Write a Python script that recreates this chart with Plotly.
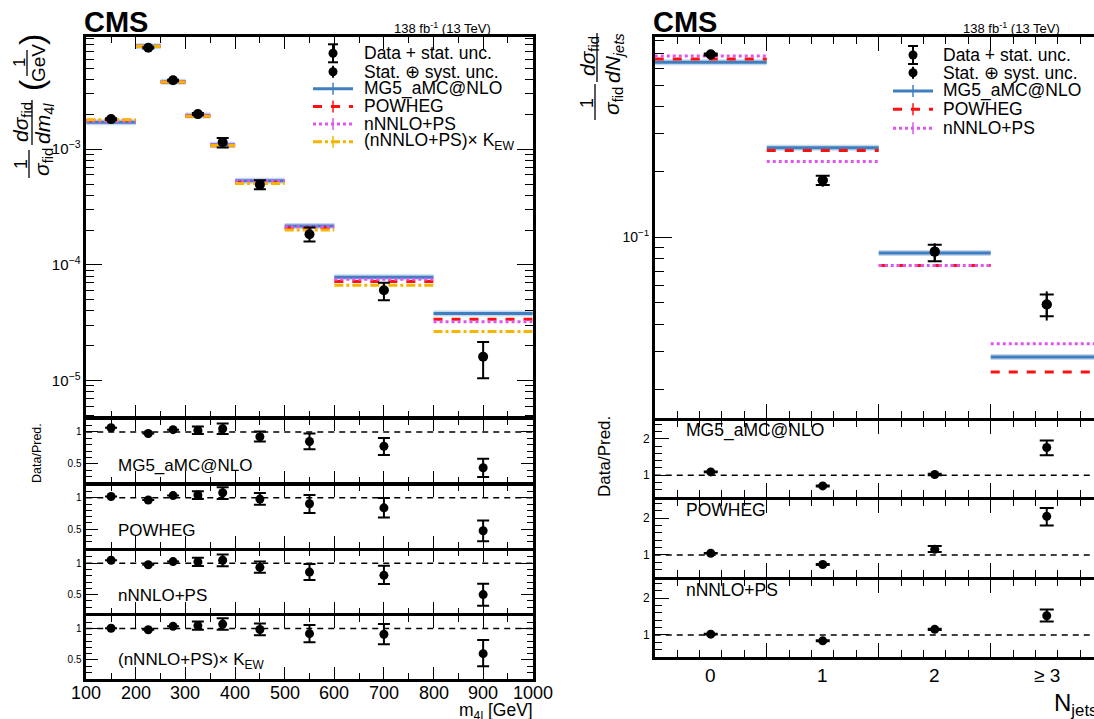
import numpy as np
import plotly.graph_objects as go

W, H = 1094, 719

# ---------------- data: m4l (left) ----------------
m4l_edges = [100, 200, 250, 300, 350, 400, 500, 600, 800, 1000]
m4l_centers = [150, 225, 275, 325, 375, 450, 550, 700, 900]
m4l_ticks = [100, 200, 300, 400, 500, 600, 700, 800, 900, 1000]
data_m4l = [1.82e-3, 7.52e-3, 3.94e-3, 2.01e-3, 1.15e-3, 4.94e-4, 1.84e-4, 6.04e-5, 1.61e-5]
data_m4l_up = [1.85e-3, 7.62e-3, 3.99e-3, 2.05e-3, 1.25e-3, 5.38e-4, 2.11e-4, 7.00e-5, 2.16e-5]
data_m4l_dn = [1.79e-3, 7.42e-3, 3.89e-3, 1.97e-3, 1.035e-3, 4.51e-4, 1.59e-4, 4.96e-5, 1.05e-5]
mg5_m4l = [1.71e-3, 7.74e-3, 3.82e-3, 1.96e-3, 1.09e-3, 5.35e-4, 2.17e-4, 7.81e-5, 3.81e-5]
powheg_m4l = [1.78e-3, 7.76e-3, 3.81e-3, 1.93e-3, 1.07e-3, 5.15e-4, 2.08e-4, 7.18e-5, 3.39e-5]
nnlo_m4l = [1.74e-3, 7.76e-3, 3.84e-3, 1.97e-3, 1.10e-3, 5.32e-4, 2.14e-4, 7.52e-5, 3.22e-5]
nnlokew_m4l = [1.80e-3, 7.70e-3, 3.81e-3, 1.93e-3, 1.075e-3, 5.05e-4, 2.00e-4, 6.67e-5, 2.66e-5]

# ratios data/prediction (left)
r_mg5 = [1.066, 0.976, 1.036, 1.025, 1.05, 0.925, 0.85, 0.775, 0.436]
r_mg5_up = [1.066, 0.976, 1.036, 1.085, 1.135, 1.006, 0.976, 0.906, 0.576]
r_mg5_dn = [1.066, 0.976, 1.036, 0.966, 0.966, 0.85, 0.726, 0.636, 0.291]
r_pow = [1.02, 0.965, 1.035, 1.045, 1.08, 0.98, 0.905, 0.84, 0.475]
r_pow_up = [1.02, 0.965, 1.035, 1.106, 1.167, 1.076, 1.045, 0.995, 0.64]
r_pow_dn = [1.02, 0.965, 1.035, 0.98, 0.98, 0.89, 0.76, 0.686, 0.308]
r_nnlo = [1.046, 0.974, 1.025, 1.02, 1.046, 0.933, 0.857, 0.806, 0.5]
r_nnlo_up = [1.046, 0.974, 1.025, 1.085, 1.138, 1.025, 0.985, 0.959, 0.673]
r_nnlo_dn = [1.046, 0.974, 1.025, 0.954, 0.949, 0.847, 0.73, 0.668, 0.321]
r_kew = [1.005, 0.98, 1.035, 1.046, 1.07, 0.985, 0.918, 0.908, 0.6]
r_kew_up = [1.005, 0.98, 1.035, 1.11, 1.163, 1.08, 1.056, 1.07, 0.817]
r_kew_dn = [1.005, 0.98, 1.035, 0.98, 0.98, 0.893, 0.78, 0.75, 0.4]

# ---------------- data: Njets (right) ----------------
nj_edges = [-0.5, 0.5, 1.5, 2.5, 3.5]
nj_centers = [0, 1, 2, 3]
nj_labels = ["0", "1", "2", "\u2265 3"]
data_nj = [0.692, 0.183, 0.0860, 0.0492]
data_nj_stat_up = [0.699, 0.192, 0.0926, 0.0546]
data_nj_stat_dn = [0.685, 0.174, 0.0777, 0.0434]
data_nj_tot_up = [0.702, 0.1937, 0.0940, 0.0565]
data_nj_tot_dn = [0.682, 0.171, 0.0770, 0.0415]
mg5_nj = [0.638, 0.258, 0.0848, 0.0282]
powheg_nj = [0.661, 0.251, 0.0742, 0.0241]
nnlo_nj = [0.682, 0.223, 0.0742, 0.0325]

rn_mg5 = [1.09, 0.706, 1.02, 1.76]
rn_mg5_up = [1.10, 0.72, 1.04, 1.95]
rn_mg5_dn = [1.08, 0.69, 1.00, 1.55]
rn_pow = [1.045, 0.74, 1.15, 2.045]
rn_pow_up = [1.055, 0.755, 1.24, 2.27]
rn_pow_dn = [1.035, 0.725, 1.08, 1.80]
rn_nnlo = [1.02, 0.84, 1.15, 1.52]
rn_nnlo_up = [1.03, 0.855, 1.17, 1.69]
rn_nnlo_dn = [1.01, 0.825, 1.13, 1.36]

# ---------------- styles ----------------
FONT = "Liberation Sans, Arial, Helvetica, sans-serif"
C_MG5 = "#3f7fbf"
C_POW = "#ff1010"
C_NNLO = "#e055f0"
C_KEW = "#f7b500"
LW = 2.5


def px(x):
    return x / W


def py(y):
    return 1 - y / H


def steps(edges, vals):
    xs, ys = [], []
    for i, v in enumerate(vals):
        xs += [edges[i], edges[i + 1], None]
        ys += [v, v, None]
    return xs, ys


def err(val, up, dn):
    v = np.array(val, dtype=float)
    return (np.array(up) - v).tolist(), (v - np.array(dn)).tolist()


fig = go.Figure()

# --- left top panel ---
pred_styles = [
    (mg5_m4l, C_MG5, "solid", 3),
    (powheg_m4l, C_POW, "dash", 3),
    (nnlo_m4l, C_NNLO, "dot", 3),
    (nnlokew_m4l, C_KEW, "dashdot", 3),
]
xs, ys = steps(m4l_edges, mg5_m4l)
fig.add_trace(go.Scatter(x=xs, y=ys, mode="lines", line=dict(color="rgba(63,127,191,0.3)", width=6),
                         xaxis="x", yaxis="y", showlegend=False, hoverinfo="skip"))
for vals, col, dash, w in pred_styles:
    xs, ys = steps(m4l_edges, vals)
    fig.add_trace(go.Scatter(x=xs, y=ys, mode="lines", line=dict(color=col, width=w, dash=dash),
                             xaxis="x", yaxis="y", showlegend=False))
eu, ed = err(data_m4l, data_m4l_up, data_m4l_dn)
fig.add_trace(go.Scatter(x=m4l_centers, y=data_m4l, mode="markers",
                         marker=dict(color="black", size=10),
                         error_y=dict(type="data", array=eu, arrayminus=ed, color="black", thickness=2, width=6),
                         xaxis="x", yaxis="y", showlegend=False))

# --- left ratio panels ---
left_ratios = [
    (r_mg5, r_mg5_up, r_mg5_dn),
    (r_pow, r_pow_up, r_pow_dn),
    (r_nnlo, r_nnlo_up, r_nnlo_dn),
    (r_kew, r_kew_up, r_kew_dn),
]
for i, (v, u, d) in enumerate(left_ratios):
    k = i + 2
    eu, ed = err(v, u, d)
    fig.add_trace(go.Scatter(x=m4l_centers, y=v, mode="markers",
                             marker=dict(color="black", size=9),
                             error_y=dict(type="data", array=eu, arrayminus=ed, color="black", thickness=2, width=6),
                             xaxis=f"x{k}", yaxis=f"y{k}", showlegend=False))

# --- right top panel ---
xs, ys = steps(nj_edges, mg5_nj)
fig.add_trace(go.Scatter(x=xs, y=ys, mode="lines", line=dict(color="rgba(63,127,191,0.3)", width=6),
                         xaxis="x6", yaxis="y6", showlegend=False, hoverinfo="skip"))
for vals, col, dash in [(mg5_nj, C_MG5, "solid"), (powheg_nj, C_POW, "dash"), (nnlo_nj, C_NNLO, "dot")]:
    xs, ys = steps(nj_edges, vals)
    fig.add_trace(go.Scatter(x=xs, y=ys, mode="lines", line=dict(color=col, width=3, dash=dash),
                             xaxis="x6", yaxis="y6", showlegend=False))
tu, td = err(data_nj, data_nj_tot_up, data_nj_tot_dn)
fig.add_trace(go.Scatter(x=nj_centers, y=data_nj, mode="markers",
                         marker=dict(color="black", size=10),
                         error_y=dict(type="data", array=tu, arrayminus=td, color="black", thickness=2, width=0),
                         xaxis="x6", yaxis="y6", showlegend=False))
su, sd = err(data_nj, data_nj_stat_up, data_nj_stat_dn)
fig.add_trace(go.Scatter(x=nj_centers, y=data_nj, mode="markers",
                         marker=dict(color="black", size=10),
                         error_y=dict(type="data", array=su, arrayminus=sd, color="black", thickness=2, width=7),
                         xaxis="x6", yaxis="y6", showlegend=False))

right_ratios = [
    (rn_mg5, rn_mg5_up, rn_mg5_dn),
    (rn_pow, rn_pow_up, rn_pow_dn),
    (rn_nnlo, rn_nnlo_up, rn_nnlo_dn),
]
for i, (v, u, d) in enumerate(right_ratios):
    k = i + 7
    eu, ed = err(v, u, d)
    fig.add_trace(go.Scatter(x=nj_centers, y=v, mode="markers",
                             marker=dict(color="black", size=9),
                             error_y=dict(type="data", array=eu, arrayminus=ed, color="black", thickness=2, width=7),
                             xaxis=f"x{k}", yaxis=f"y{k}", showlegend=False))

# ---------------- axes ----------------
def base_axis(**kw):
    d = dict(showline=True, linecolor="black", linewidth=LW, ticks="inside", tickcolor="black",
             tickwidth=1.3, showgrid=False, zeroline=False, mirror="ticks", automargin=False,
             tickfont=dict(family=FONT, size=12, color="black"))
    d.update(kw)
    return d

layout = {}
left_dom = [px(85 + LW / 2), px(534 - LW / 2)]
right_dom = [px(653.5 + LW / 2), 1.0]


def rows_from(bounds):
    out = []
    for i in range(len(bounds) - 1):
        out.append((bounds[i] + LW / 2, bounds[i + 1] - LW / 2))
    return out

left_rows = rows_from([35.7, 418, 484, 549.3, 614.7, 680])
right_rows = rows_from([35.7, 419.3, 498.3, 578.3, 658.3])

# left x axes (tick labels of the bottom one are drawn as annotations below)
for k in range(1, 6):
    name = "xaxis" if k == 1 else f"xaxis{k}"
    ya = "y" if k == 1 else f"y{k}"
    layout[name] = base_axis(domain=left_dom, anchor=ya, range=[100, 1000], tickmode="array",
                             tickvals=m4l_ticks, ticklen=12, showticklabels=False,
                             minor=dict(dtick=50, tick0=100, ticklen=6, ticks="inside", tickcolor="black", tickwidth=1.3))

# left y top (log)
decades = [1e-6, 1e-5, 1e-4, 1e-3, 1e-2]
minor_log = [m * d for d in decades for m in range(2, 10)]
t0, b0 = left_rows[0]
layout["yaxis"] = base_axis(domain=[py(b0), py(t0)], anchor="x", type="log",
                            range=[-5.312, -2.030], tickmode="array",
                            tickvals=[1e-5, 1e-4, 1e-3],
                            ticktext=["10<sup>\u22125</sup>", "10<sup>\u22124</sup>", "10<sup>\u22123</sup>"],
                            ticklen=16, tickfont=dict(family=FONT, size=15, color="black"),
                            minor=dict(tickmode="array", tickvals=minor_log, ticklen=8, ticks="inside",
                                       tickcolor="black", tickwidth=1.3))
for k in range(2, 6):
    top, bot = left_rows[k - 1]
    layout[f"yaxis{k}"] = base_axis(domain=[py(bot), py(top)], anchor=f"x{k}", range=[0.2, 1.2],
                                    tickmode="array", tickvals=[0.5, 1], ticktext=["0.5", "1"], ticklen=12,
                                    tickfont=dict(family=FONT, size=10, color="black"),
                                    minor=dict(tickmode="array", tickvals=[0.3, 0.4, 0.6, 0.7, 0.8, 0.9, 1.1],
                                               ticklen=6, ticks="inside", tickcolor="black", tickwidth=1.3))

# right x axes
nj_major = [-0.5, 0.5, 1.5, 2.5, 3.5]
nj_minor = [round(v, 2) for v in np.arange(-0.5, 3.51, 0.2) if min(abs(v - m) for m in nj_major) > 1e-6]
for k in range(6, 10):
    layout[f"xaxis{k}"] = base_axis(domain=right_dom, anchor=f"y{k}", range=[-0.5, 3.422],
                                    tickmode="array", tickvals=nj_major, showticklabels=False, ticklen=14,
                                    minor=dict(tickmode="array", tickvals=nj_minor, ticklen=7, ticks="inside",
                                               tickcolor="black", tickwidth=1.3))

decs_r = [0.01, 0.1, 1.0]
minor_r = [m * d for d in decs_r for m in range(2, 10)]
t6, b6 = right_rows[0]
layout["yaxis6"] = base_axis(domain=[py(b6), py(t6)], anchor="x6", type="log", range=[-1.830, -0.079],
                             tickmode="array", tickvals=[0.1], ticktext=["10<sup>\u22121</sup>"], ticklen=17,
                             mirror=False, tickfont=dict(family=FONT, size=14, color="black"),
                             minor=dict(tickmode="array", tickvals=minor_r, ticklen=9, ticks="inside",
                                        tickcolor="black", tickwidth=1.3))
rminor = [0.6, 0.8, 1.2, 1.4, 1.6, 1.8, 2.2, 2.4]
for k in range(7, 10):
    top, bot = right_rows[k - 6]
    layout[f"yaxis{k}"] = base_axis(domain=[py(bot), py(top)], anchor=f"x{k}", range=[0.4, 2.5],
                                    tickmode="array", tickvals=[1, 2], ticktext=["1", "2"], ticklen=14,
                                    mirror=False, tickfont=dict(family=FONT, size=12, color="black"),
                                    minor=dict(tickmode="array", tickvals=rminor, ticklen=7, ticks="inside",
                                               tickcolor="black", tickwidth=1.3))

# ---------------- shapes & annotations ----------------
shapes = []
annotations = []

for k in list(range(2, 6)) + list(range(7, 10)):
    shapes.append(dict(type="line", xref=f"x{k} domain", yref=f"y{k}", x0=0, x1=1, y0=1, y1=1,
                       line=dict(color="black", width=1.5, dash="6px,5px"), layer="below"))


def ann(text, x, y, size, xanchor="center", yanchor="middle", angle=0, **kw):
    annotations.append(dict(text=text, x=px(x), y=py(y), xref="paper", yref="paper", showarrow=False,
                            xanchor=xanchor, yanchor=yanchor, textangle=angle,
                            font=dict(family=FONT, size=size, color="black"), **kw))


def hline(x0, x1, y, color, dash, width=3):
    shapes.append(dict(type="line", xref="paper", yref="paper", x0=px(x0), x1=px(x1), y0=py(y), y1=py(y),
                       line=dict(color=color, width=width, dash=dash)))


def vline(x, y0, y1, color="black", width=2, dash="solid"):
    shapes.append(dict(type="line", xref="paper", yref="paper", x0=px(x), x1=px(x), y0=py(y0), y1=py(y1),
                       line=dict(color=color, width=width, dash=dash)))


def dot(x, y, r=4.5):
    shapes.append(dict(type="circle", xref="paper", yref="paper", x0=px(x - r), x1=px(x + r),
                       y0=py(y + r), y1=py(y - r), fillcolor="black", line=dict(color="black", width=0)))


# axis tick labels placed on the axes' own scales
for tv in m4l_ticks:
    annotations.append(dict(text=str(tv), x=tv, y=py(692.5), xref="x5", yref="paper", showarrow=False,
                            xanchor="center", yanchor="middle",
                            font=dict(family=FONT, size=18, color="black")))
for cx, lab in zip(nj_centers, nj_labels):
    annotations.append(dict(text=lab, x=cx, y=py(675), xref="x9", yref="paper", showarrow=False,
                            xanchor="center", yanchor="middle",
                            font=dict(family=FONT, size=19, color="black")))

# CMS labels and lumi
ann("<b>CMS</b>", 82, 22, 29, xanchor="left")
ann("<b>CMS</b>", 651, 22, 29, xanchor="left")
ann("138 fb<sup>-1</sup> (13 TeV)", 493, 28, 13, xanchor="right")
ann("138 fb<sup>-1</sup> (13 TeV)", 1062, 28, 13, xanchor="right")


def legend(xc, xt, rows, entries):
    for (kind, label, col, dash), y in zip(entries, rows):
        if kind == "data":
            vline(xc, y - 9, y + 9)
            hline(xc - 5, xc + 5, y - 9, "black", "solid", 2)
            hline(xc - 5, xc + 5, y + 9, "black", "solid", 2)
            dot(xc, y)
        elif kind == "data2":
            vline(xc, y - 6, y + 6)
            dot(xc, y)
        else:
            hline(xc - 20, xc + 20, y, col, dash, 3)
            vline(xc, y - 6, y + 6, col, 1.5)
        ann(label, xt, y, 17.5, xanchor="left")

ents = [("data", "Data + stat. unc.", None, None),
        ("data2", "Stat. \u2295 syst. unc.", None, None),
        ("line", "MG5_aMC@NLO", C_MG5, "solid"),
        ("line", "POWHEG", C_POW, "dash"),
        ("line", "nNNLO+PS", C_NNLO, "dot"),
        ("line", "(nNNLO+PS)\u00d7 K<sub>EW</sub>", C_KEW, "dashdot")]
legend(333, 362, [53.3, 71.7, 88.8, 106.4, 124, 141.7], ents)
legend(913, 941, [55, 72.7, 91, 109.3, 128.3], ents[:5])

for lab, y in zip(["MG5_aMC@NLO", "POWHEG", "nNNLO+PS", "(nNNLO+PS)\u00d7 K<sub>EW</sub>"],
                  [465, 530, 595, 660.7]):
    ann(lab, 116, y, 17, xanchor="left")
for lab, y in zip(["MG5_aMC@NLO", "POWHEG", "nNNLO+PS"], [430, 510, 590]):
    ann(lab, 684, y, 17.5, xanchor="left")

ann("m<sub>4l</sub> [GeV]", 535, 711, 17.5, xanchor="right")
ann("N<sub>jets</sub>", 1052, 704, 24, xanchor="left")
ann("Data/Pred.", 37, 453, 12.5, angle=-90)
ann("Data/Pred.", 604, 457, 17, angle=-90)

# left y title (rotated fraction layout)
ann("1", 21, 164, 18, angle=-90)
vline(29, 150, 178, width=1.3)
ann("<i>\u03c3</i><sub>fid</sub>", 43, 162, 21, angle=-90)
ann("<i>d\u03c3</i><sub>fid</sub>", 22, 122, 21, angle=-90)
vline(32, 100, 145, width=1.3)
ann("<i>dm</i><sub>4<i>l</i></sub>", 44, 124, 21, angle=-90)
ann("(", 31, 85, 34, angle=-90)
ann(")", 31, 40, 34, angle=-90)
ann("1", 20, 63, 17, angle=-90)
vline(27, 50, 76, width=1.3)
ann("GeV", 39, 63, 19, angle=-90)

# right y title
ann("1", 587, 103, 18, angle=-90)
vline(595, 84, 120, width=1.3)
ann("<i>\u03c3</i><sub>fid</sub>", 613, 101, 21, angle=-90)
ann("<i>d\u03c3</i><sub>fid</sub>", 589, 56, 21, angle=-90)
vline(597, 33, 82, width=1.3)
ann("<i>dN</i><sub><i>jets</i></sub>", 614, 58, 21, angle=-90)

fig.update_layout(**layout)
fig.update_layout(width=W, height=H, margin=dict(l=0, r=0, t=0, b=0, autoexpand=False), paper_bgcolor="white",
                  plot_bgcolor="rgba(0,0,0,0)", showlegend=False, shapes=shapes, annotations=annotations,
                  font=dict(family=FONT, color="black"))
fig.write_html("out.html", config={"displayModeBar": False},
               post_script="document.body.style.margin='0px';document.body.style.padding='0px';"
                           "document.body.style.overflow='hidden';")
